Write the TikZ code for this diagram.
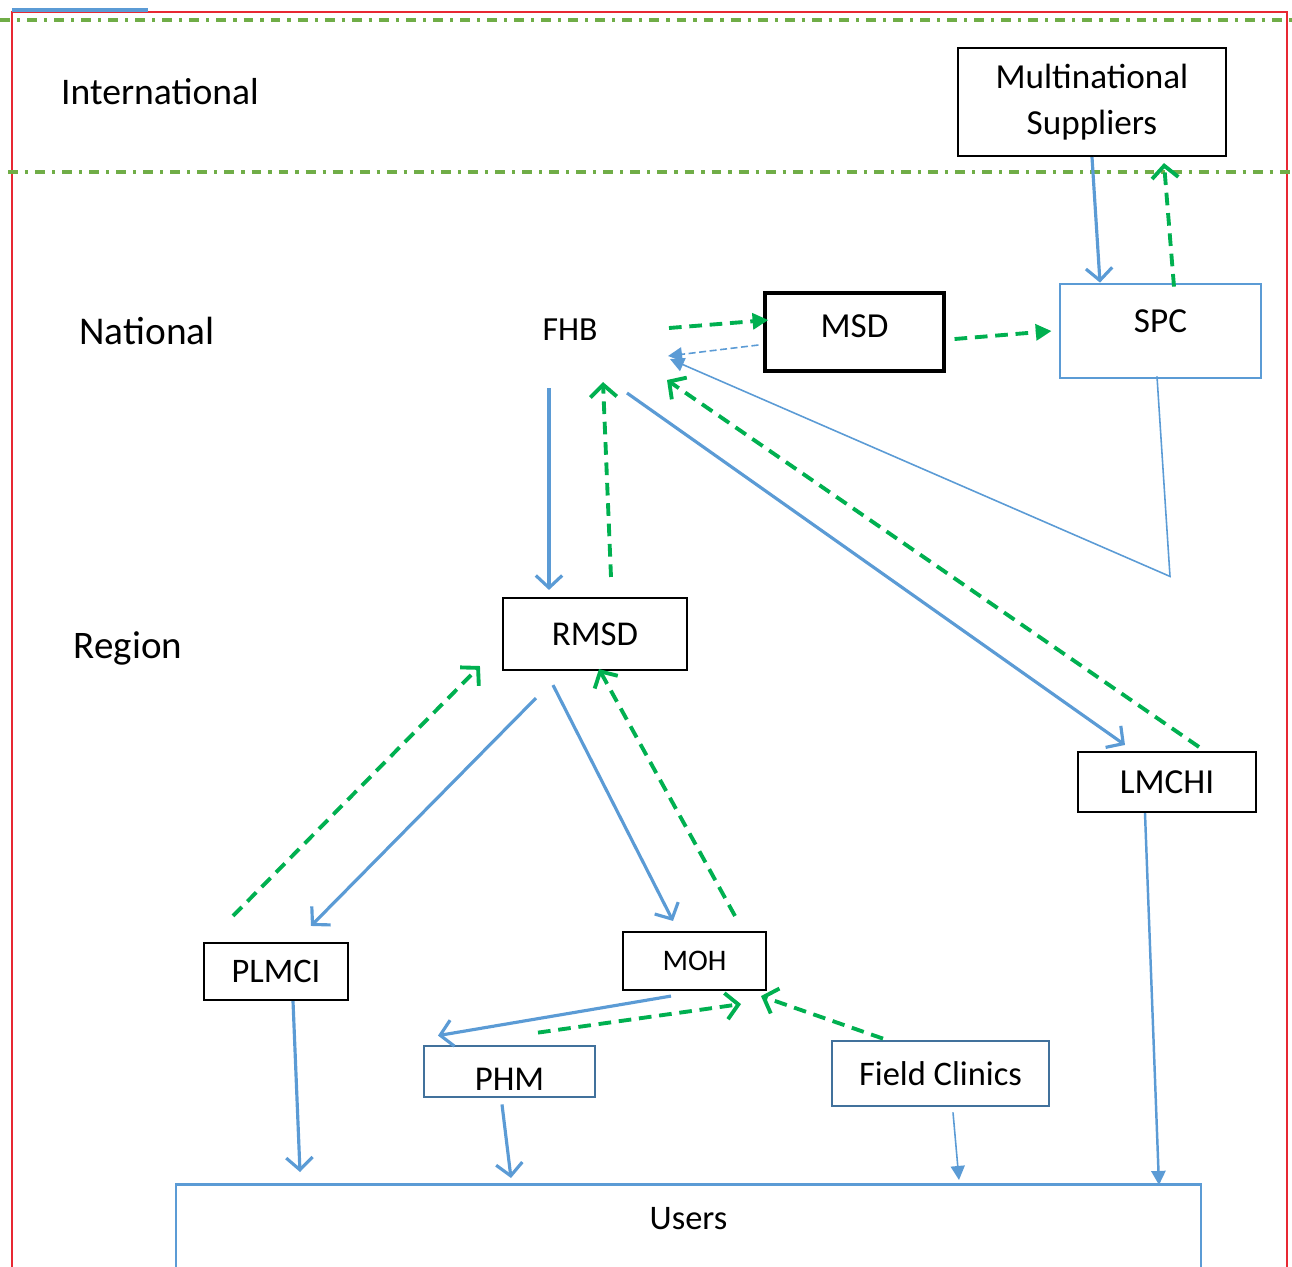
\documentclass[tikz,border=0pt]{standalone}
\usepackage{fontspec}
\setmainfont{Carlito}
\usetikzlibrary{arrows.meta}
\definecolor{lineblue}{RGB}{91,155,213}
\definecolor{darkblue}{RGB}{65,113,156}
\definecolor{flowgreen}{RGB}{0,176,80}
\definecolor{levelgreen}{RGB}{112,173,71}
\definecolor{framered}{RGB}{232,40,50}
\begin{document}
\begin{tikzpicture}[
    blackbox/.style={draw=black,line width=0.6pt,inner sep=0pt,align=center},
    bluebox/.style={draw=lineblue,line width=0.8pt,inner sep=0pt,align=center},
    darkbox/.style={draw=darkblue,line width=0.8pt,inner sep=0pt,align=center},
    supply/.style={draw=lineblue,line width=0.9pt,-{Straight Barb[length=3.5pt,width=7.5pt]}},
    thinsupply/.style={draw=lineblue,line width=0.45pt,-{Triangle[length=4pt,width=4pt]}},
    order/.style={draw=flowgreen,line width=1.1pt,dash pattern=on 3.6pt off 2.2pt,-{Straight Barb[length=3.5pt,width=7.5pt]}},
    orderfill/.style={draw=flowgreen,line width=1.1pt,dash pattern=on 3.6pt off 2.2pt,-{Triangle[length=4.5pt,width=4.5pt]}},
    level/.style={levelgreen,line width=0.9pt,dash pattern=on 2.8pt off 2pt on 0.9pt off 2pt},
    tier/.style={anchor=center,font=\fontsize{11}{13}\selectfont}
  ]
  \useasboundingbox (0,0) rectangle (12.92,-12.66);

  % frame and levels
  \draw[framered,line width=0.8pt] (0.12,-12.8) -- (0.12,-0.12) -- (12.87,-0.12) -- (12.87,-12.8);
  \draw[lineblue,line width=1.2pt] (0.12,-0.10) -- (1.48,-0.10);
  \draw[level] (0,-0.20) -- (12.92,-0.20);
  \draw[level] (0.08,-1.72) -- (12.92,-1.72);

  \node[tier,font=\fontsize{10.7}{13}\selectfont] (intl) at (1.60,-0.92) {International};
  \node[tier,font=\fontsize{11.2}{13}\selectfont] (natl) at (1.47,-3.31) {National};
  \node[tier,font=\fontsize{11.1}{13}\selectfont] (regn) at (1.28,-6.48) {Region};

  % boxes
  \node[blackbox,minimum width=2.68cm,minimum height=1.08cm,font=\fontsize{10}{13}\selectfont] (multi) at (10.92,-1.02) {Multinational\\Suppliers};
  \node[bluebox,minimum width=2.01cm,minimum height=0.94cm,text depth=0.2cm,font=\fontsize{10}{12}\selectfont] (spc) at (11.605,-3.31) {SPC};
  \node[blackbox,line width=0.9pt,minimum width=1.79cm,minimum height=0.78cm,text depth=0.12cm,font=\fontsize{10}{12}\selectfont] (msd) at (8.545,-3.32) {MSD};
  \node[inner sep=0pt,font=\fontsize{9.6}{11}\selectfont] (fhb) at (5.70,-3.30) {FHB};
  \node[blackbox,minimum width=1.84cm,minimum height=0.72cm,font=\fontsize{9.9}{12}\selectfont] (rmsd) at (5.95,-6.34) {RMSD};
  \node[blackbox,minimum width=1.78cm,minimum height=0.60cm,font=\fontsize{10}{12}\selectfont] (lmchi) at (11.67,-7.82) {LMCHI};
  \node[blackbox,minimum width=1.44cm,minimum height=0.57cm,font=\fontsize{9.8}{12}\selectfont] (plmci) at (2.76,-9.715) {PLMCI};
  \node[blackbox,minimum width=1.43cm,minimum height=0.58cm,font=\fontsize{8.5}{10}\selectfont] (moh) at (6.945,-9.61) {MOH};
  \node[darkbox,minimum width=1.71cm,minimum height=0.51cm,text height=0.37cm,text depth=0cm,font=\fontsize{9.9}{12}\selectfont] (phm) at (5.095,-10.715) {PHM};
  \node[darkbox,minimum width=2.17cm,minimum height=0.65cm,font=\fontsize{9.8}{12}\selectfont] (field) at (9.405,-10.735) {Field Clinics};
  \node[bluebox,anchor=north,minimum width=10.25cm,minimum height=1.2cm,text depth=0.52cm,font=\fontsize{9.8}{12}\selectfont] (users) at (6.885,-11.83) {Users};

  % national and international flows
  \draw[supply] (multi.south) -- ([xshift=-0.605cm]spc.north);
  \draw[order] ([xshift=0.135cm,yshift=-0.04cm]spc.north) -- ([xshift=0.72cm,yshift=-0.06cm]multi.south);
  \draw[orderfill] ([xshift=0.99cm,yshift=0.02cm]fhb.center) -- ([xshift=0.05cm,yshift=0.12cm]msd.west);
  \draw[thinsupply,dash pattern=on 2pt off 1pt] ([xshift=-0.05cm,yshift=-0.13cm]msd.west) -- ([xshift=0.98cm,yshift=-0.26cm]fhb.center);
  \draw[orderfill] ([xshift=0.09cm,yshift=-0.07cm]msd.east) -- ([xshift=-0.07cm]spc.west);
  \draw[thinsupply] ([xshift=-0.035cm,yshift=0.03cm]spc.south) -- ++(0.13,-2.0) -- ([xshift=1.0cm,yshift=-0.29cm]fhb.center);

  % FHB to region
  \draw[supply] ([xshift=-0.21cm,yshift=-0.58cm]fhb.center) -- ([xshift=-0.46cm,yshift=0.07cm]rmsd.north);
  \draw[order] ([xshift=0.16cm,yshift=0.2cm]rmsd.north) -- ([xshift=0.33cm,yshift=-0.52cm]fhb.center);
  \draw[supply] ([xshift=0.57cm,yshift=-0.63cm]fhb.center) -- ([xshift=-0.42cm,yshift=0.06cm]lmchi.north);
  \draw[order] ([xshift=0.32cm,yshift=0.04cm]lmchi.north) -- ([xshift=0.97cm,yshift=-0.5cm]fhb.center);

  % region to districts
  \draw[supply] ([xshift=-0.59cm,yshift=-0.27cm]rmsd.south) -- ([xshift=0.35cm,yshift=0.16cm]plmci.north);
  \draw[order] ([xshift=-0.43cm,yshift=0.26cm]plmci.north) -- ([xshift=-0.22cm,yshift=-0.32cm]rmsd.west);
  \draw[supply] ([xshift=-0.42cm,yshift=-0.14cm]rmsd.south) -- ([xshift=-0.215cm,yshift=0.1cm]moh.north);
  \draw[order] ([xshift=0.405cm,yshift=0.15cm]moh.north) -- ([xshift=0.04cm,yshift=0.02cm]rmsd.south);
  \draw[supply] ([xshift=-0.235cm,yshift=-0.05cm]moh.south) -- ([xshift=-0.715cm,yshift=0.09cm]phm.north);
  \draw[order] ([xshift=0.285cm,yshift=0.12cm]phm.north) -- ([xshift=0.465cm,yshift=-0.13cm]moh.south);
  \draw[order] ([xshift=-0.575cm,yshift=0.01cm]field.north) -- ([xshift=0.665cm,yshift=-0.05cm]moh.south);

  % to users
  \draw[supply] ([xshift=0.17cm]plmci.south) -- ([xshift=-3.885cm,yshift=0.11cm]users.north);
  \draw[supply] ([xshift=-0.075cm,yshift=-0.06cm]phm.south) -- ([xshift=-1.775cm,yshift=0.05cm]users.north);
  \draw[thinsupply] ([xshift=0.125cm,yshift=-0.05cm]field.south) -- ([xshift=2.705cm,yshift=0.03cm]users.north);
  \draw[thinsupply,line width=0.7pt] ([xshift=-0.22cm]lmchi.south) -- ([xshift=4.705cm,yshift=-0.02cm]users.north);
\end{tikzpicture}
\end{document}
